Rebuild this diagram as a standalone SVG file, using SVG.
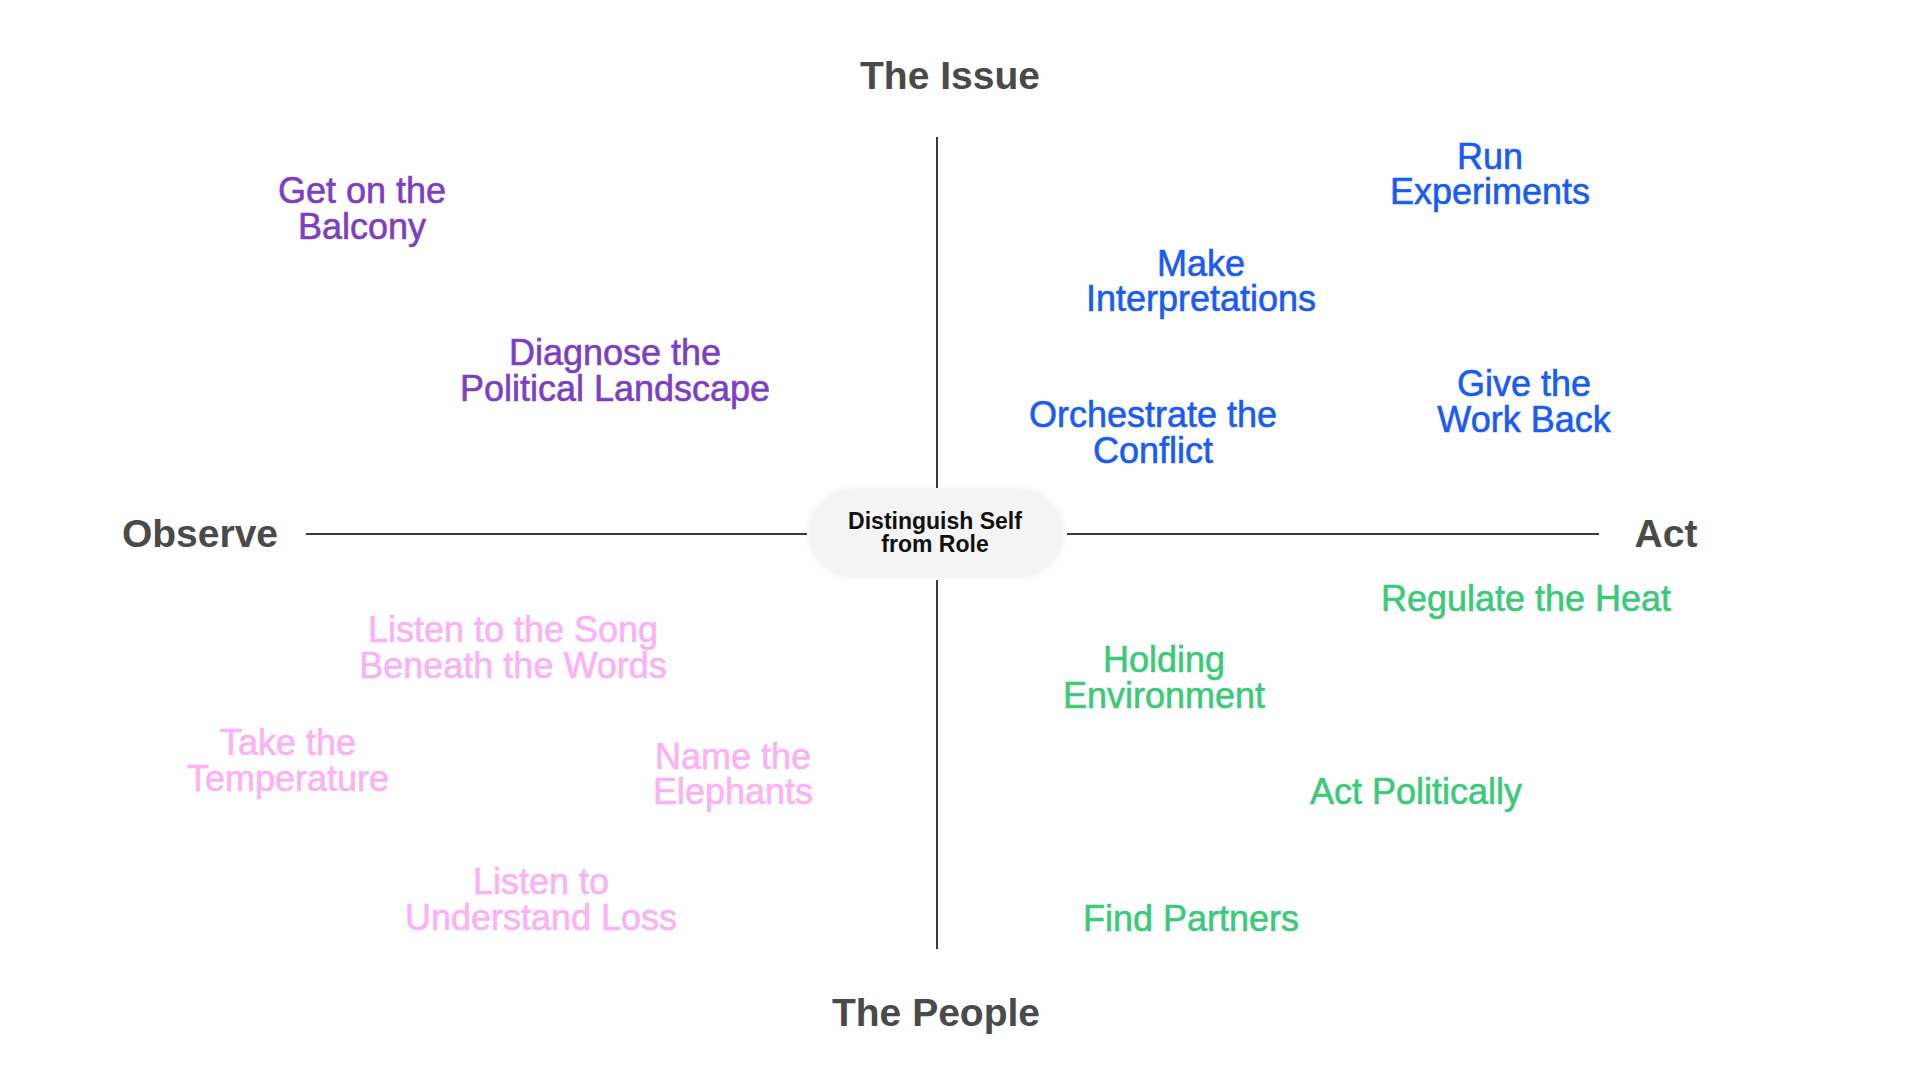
<svg xmlns="http://www.w3.org/2000/svg" width="1920" height="1080" viewBox="0 0 1920 1080">
<style>
text{font-family:"Liberation Sans",Arial,sans-serif;text-anchor:middle}
.axis{font-size:39px;font-weight:bold;fill:#4a4a4a}
.lbl{font-size:36px;stroke-width:0.6px}
.purple{fill:#7d3fc2;stroke:#7d3fc2}
.blue{fill:#1a5cf2;stroke:#1a5cf2}
.green{fill:#3dc97a;stroke:#3dc97a}
.pink{fill:#fab2f4;stroke:#fab2f4}
.line{stroke:#3a3a3a;stroke-width:2;fill:none}
.center{font-size:23px;font-weight:bold;fill:#111}
</style>
<defs>
<filter id="soft" x="-20%" y="-40%" width="140%" height="180%">
<feGaussianBlur in="SourceAlpha" stdDeviation="3"/>
<feComponentTransfer><feFuncA type="linear" slope="0.08"/></feComponentTransfer>
<feMerge><feMergeNode/><feMergeNode in="SourceGraphic"/></feMerge>
</filter>
</defs>
<rect width="1920" height="1080" fill="#ffffff"/>
<g id="connectors">
<line class="line" x1="937" y1="137" x2="937" y2="488"/>
<line class="line" x1="937" y1="580" x2="937" y2="949"/>
<line class="line" x1="306" y1="534" x2="807" y2="534"/>
<line class="line" x1="1067" y1="534" x2="1599" y2="534"/>
</g>
<g id="axis-labels">
<text class="axis" x="950" y="89">The Issue</text>
<text class="axis" x="936" y="1026">The People</text>
<text class="axis" x="200" y="547">Observe</text>
<text class="axis" x="1666" y="547">Act</text>
</g>
<g id="center-node">
<rect x="809" y="489" width="254" height="88" rx="44" fill="#f4f4f4" filter="url(#soft)"/>
<text class="center" x="935" y="529">Distinguish Self<tspan x="935" dy="23">from Role</tspan></text>
</g>
<g id="get-on-the-balcony"><text class="lbl purple" x="362" y="203">Get on the<tspan x="362" dy="36">Balcony</tspan></text></g>
<g id="diagnose"><text class="lbl purple" x="615" y="365">Diagnose the<tspan x="615" dy="36">Political Landscape</tspan></text></g>
<g id="run-experiments"><text class="lbl blue" x="1490" y="169">Run<tspan x="1490" dy="35">Experiments</tspan></text></g>
<g id="make-interpretations"><text class="lbl blue" x="1201" y="276">Make<tspan x="1201" dy="35">Interpretations</tspan></text></g>
<g id="orchestrate"><text class="lbl blue" x="1153" y="427">Orchestrate the<tspan x="1153" dy="36">Conflict</tspan></text></g>
<g id="give-work-back"><text class="lbl blue" x="1524" y="396">Give the<tspan x="1524" dy="36">Work Back</tspan></text></g>
<g id="regulate-heat"><text class="lbl green" x="1526" y="611">Regulate the Heat</text></g>
<g id="holding-environment"><text class="lbl green" x="1164" y="672">Holding<tspan x="1164" dy="36">Environment</tspan></text></g>
<g id="act-politically"><text class="lbl green" x="1416" y="804">Act Politically</text></g>
<g id="find-partners"><text class="lbl green" x="1191" y="931">Find Partners</text></g>
<g id="listen-song"><text class="lbl pink" x="513" y="642">Listen to the Song<tspan x="513" dy="36">Beneath the Words</tspan></text></g>
<g id="take-temperature"><text class="lbl pink" x="288" y="755">Take the<tspan x="288" dy="36">Temperature</tspan></text></g>
<g id="name-elephants"><text class="lbl pink" x="733" y="769">Name the<tspan x="733" dy="35">Elephants</tspan></text></g>
<g id="listen-loss"><text class="lbl pink" x="541" y="894">Listen to<tspan x="541" dy="36">Understand Loss</tspan></text></g>
</svg>
